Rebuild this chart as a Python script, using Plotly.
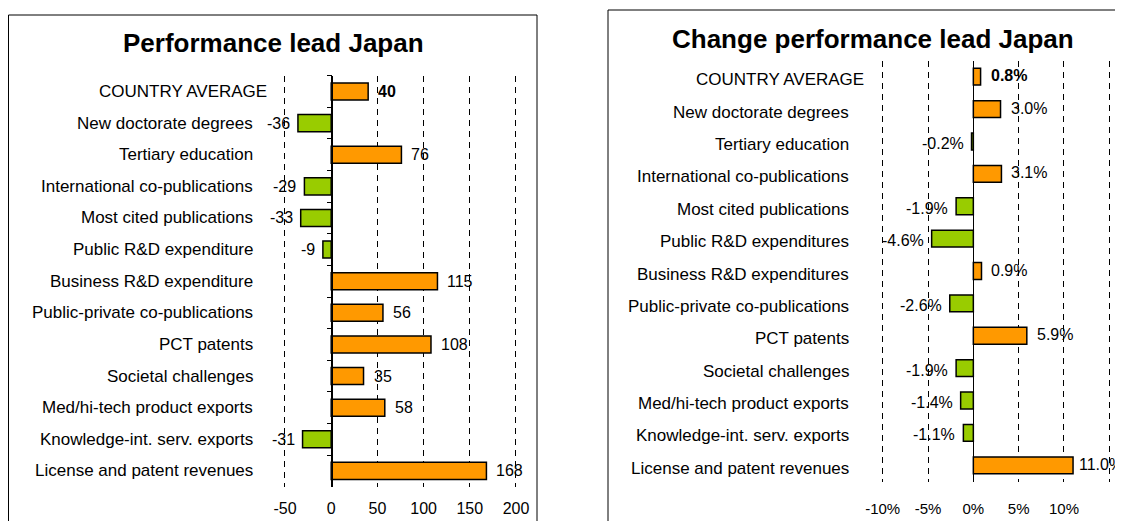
import plotly.graph_objects as go

# The page body adds an 8px margin, so the figure is drawn 8px in from the window corner.
# Height leaves room for the bottom body margin so no scrollbar appears.
OFF = 8
W, H = 1123 - OFF, 529 - 2 * OFF

# ---------------- data ----------------
left_title = "Performance lead Japan"
left_categories = [
    "COUNTRY AVERAGE",
    "New doctorate degrees",
    "Tertiary education",
    "International co-publications",
    "Most cited publications",
    "Public R&D expenditure",
    "Business R&D expenditure",
    "Public-private co-publications",
    "PCT patents",
    "Societal challenges",
    "Med/hi-tech product exports",
    "Knowledge-int. serv. exports",
    "License and patent revenues",
]
left_values = [40, -36, 76, -29, -33, -9, 115, 56, 108, 35, 58, -31, 168]
left_ticks = [-50, 0, 50, 100, 150, 200]
left_tick_labels = ["-50", "0", "50", "100", "150", "200"]

right_title = "Change performance lead Japan"
right_categories = [
    "COUNTRY AVERAGE",
    "New doctorate degrees",
    "Tertiary education",
    "International co-publications",
    "Most cited publications",
    "Public R&D expenditures",
    "Business R&D expenditures",
    "Public-private co-publications",
    "PCT patents",
    "Societal challenges",
    "Med/hi-tech product exports",
    "Knowledge-int. serv. exports",
    "License and patent revenues",
]
right_values = [0.8, 3.0, -0.2, 3.1, -1.9, -4.6, 0.9, -2.6, 5.9, -1.9, -1.4, -1.1, 11.0]
right_ticks = [-10, -5, 0, 5, 10, 15]
right_tick_labels = ["-10%", "-5%", "0%", "5%", "10%", "15%"]

# ---------------- style ----------------
ORANGE = "#FF9900"
GREEN = "#99CC00"
FONT = "Liberation Sans, Arial, sans-serif"
NARROW = "Liberation Sans Narrow, Arial Narrow, Liberation Sans, sans-serif"


def px_x(p):
    return (p - OFF) / W


def px_y(p):
    return 1 - (p - OFF) / H


fig = go.Figure()

fig.add_trace(go.Bar(
    orientation="h", x=left_values, y=left_categories,
    width=0.54,
    marker=dict(color=[ORANGE if v > 0 else GREEN for v in left_values],
                line=dict(color="black", width=1.5)),
    xaxis="x", yaxis="y", showlegend=False, hoverinfo="x+y",
))
fig.add_trace(go.Bar(
    orientation="h", x=right_values, y=right_categories,
    width=0.52,
    marker=dict(color=[ORANGE if v > 0 else GREEN for v in right_values],
                line=dict(color="black", width=1.5)),
    xaxis="x2", yaxis="y2", showlegend=False, hoverinfo="x+y",
))

grid_common = dict(
    showgrid=True, gridcolor="black", gridwidth=1, griddash="6px,5px",
    zeroline=True, zerolinecolor="black", zerolinewidth=1,
    showline=False, ticks="", fixedrange=True, automargin=False,
)

# x scales (pixels per unit) so the ranges can be padded and edge gridlines stay visible
L_PPU = (516 - 285) / 250.0
R_PPU = (1109.3 - 882.7) / 25.0
L_PAD = 3
R_PAD = 0.35

fig.update_layout(
    width=W, height=H, autosize=False,
    margin=dict(l=0, r=0, t=0, b=0, pad=0, autoexpand=False),
    paper_bgcolor="white", plot_bgcolor="white",
    font=dict(family=FONT, color="black", size=16),
    bargap=0.46,
    xaxis=dict(
        domain=[px_x(285 - L_PAD * L_PPU), px_x(516 + L_PAD * L_PPU)],
        range=[-50 - L_PAD, 200 + L_PAD],
        tickmode="array", tickvals=left_ticks, ticktext=left_tick_labels,
        anchor="y",
        tickfont=dict(size=16), ticklabelstandoff=10,
        **grid_common,
    ),
    yaxis=dict(
        domain=[px_y(486.7), px_y(75.7)],
        type="category", categoryorder="array", categoryarray=left_categories,
        autorange="reversed",
        anchor="free", position=px_x(331.7),
        showline=True, linecolor="black", linewidth=1,
        ticks="outside", tickson="boundaries", ticklen=5, tickcolor="black",
        showticklabels=False, showgrid=False, zeroline=False, fixedrange=True,
        automargin=False,
    ),
    xaxis2=dict(
        domain=[px_x(882.7 - R_PAD * R_PPU), px_x(1109.3 + R_PAD * R_PPU)],
        range=[-10 - R_PAD, 15 + R_PAD],
        tickmode="array", tickvals=right_ticks, ticktext=right_tick_labels,
        anchor="y2",
        tickfont=dict(size=15), ticklabelstandoff=16,
        **grid_common,
    ),
    yaxis2=dict(
        domain=[px_y(481.5), px_y(60.5)],
        type="category", categoryorder="array", categoryarray=right_categories,
        autorange="reversed",
        anchor="free", position=px_x(972.7),
        showline=True, linecolor="black", linewidth=1,
        ticks="", showticklabels=False, showgrid=False, zeroline=False,
        fixedrange=True, automargin=False,
    ),
)

annotations = []
shapes = []

# panel boxes
shapes.append(dict(type="rect", xref="paper", yref="paper",
                   x0=px_x(8.5), x1=px_x(537), y0=px_y(540), y1=px_y(15),
                   line=dict(color="black", width=1), fillcolor="rgba(0,0,0,0)", layer="below"))
shapes.append(dict(type="rect", xref="paper", yref="paper",
                   x0=px_x(608), x1=px_x(1140), y0=px_y(540), y1=px_y(10),
                   line=dict(color="black", width=1), fillcolor="rgba(0,0,0,0)", layer="below"))

# titles
annotations.append(dict(text="<b>%s</b>" % left_title, xref="paper", yref="paper",
                        x=px_x(273), y=px_y(43), xanchor="center", yanchor="middle",
                        showarrow=False, font=dict(size=26, family=FONT)))
annotations.append(dict(text="<b>%s</b>" % right_title, xref="paper", yref="paper",
                        x=px_x(873), y=px_y(39), xanchor="center", yanchor="middle",
                        showarrow=False, font=dict(size=26, family=FONT)))

# category labels
for i, c in enumerate(left_categories):
    xr = 269 if i == 0 else 255
    annotations.append(dict(text=c, xref="paper", yref="y", x=px_x(xr), y=c,
                            xanchor="right", yanchor="middle", showarrow=False,
                            font=dict(size=17)))
for i, c in enumerate(right_categories):
    xr = 866 if i == 0 else 851
    annotations.append(dict(text=c, xref="paper", yref="y2", x=px_x(xr), y=c,
                            xanchor="right", yanchor="middle", showarrow=False,
                            yshift=-3, font=dict(size=17)))

# value labels
for i, (c, v) in enumerate(zip(left_categories, left_values)):
    txt = "%d" % v
    if i == 0:
        txt = "<b>%s</b>" % txt
    annotations.append(dict(text=txt, xref="x", yref="y", x=v, y=c,
                            xanchor="left" if v > 0 else "right",
                            xshift=8 if v > 0 else -6, yanchor="middle",
                            showarrow=False, font=dict(size=16)))
vmax = max(right_values)
for i, (c, v) in enumerate(zip(right_categories, right_values)):
    txt = "%.1f%%" % v
    if i == 0:
        txt = "<b>%s</b>" % txt
    # the longest bar's label sits at the window edge: use a narrow face so it fits
    edge = v == vmax
    annotations.append(dict(text=txt, xref="x2", yref="y2", x=v, y=c,
                            xanchor="left" if v > 0 else "right",
                            xshift=(4 if edge else 8) if v > 0 else -6,
                            yshift=1 if v > 0 else -2, yanchor="middle",
                            showarrow=False,
                            font=dict(size=16, family=NARROW if edge else FONT)))

fig.update_layout(annotations=annotations, shapes=shapes)

fig.write_html("out.html")
